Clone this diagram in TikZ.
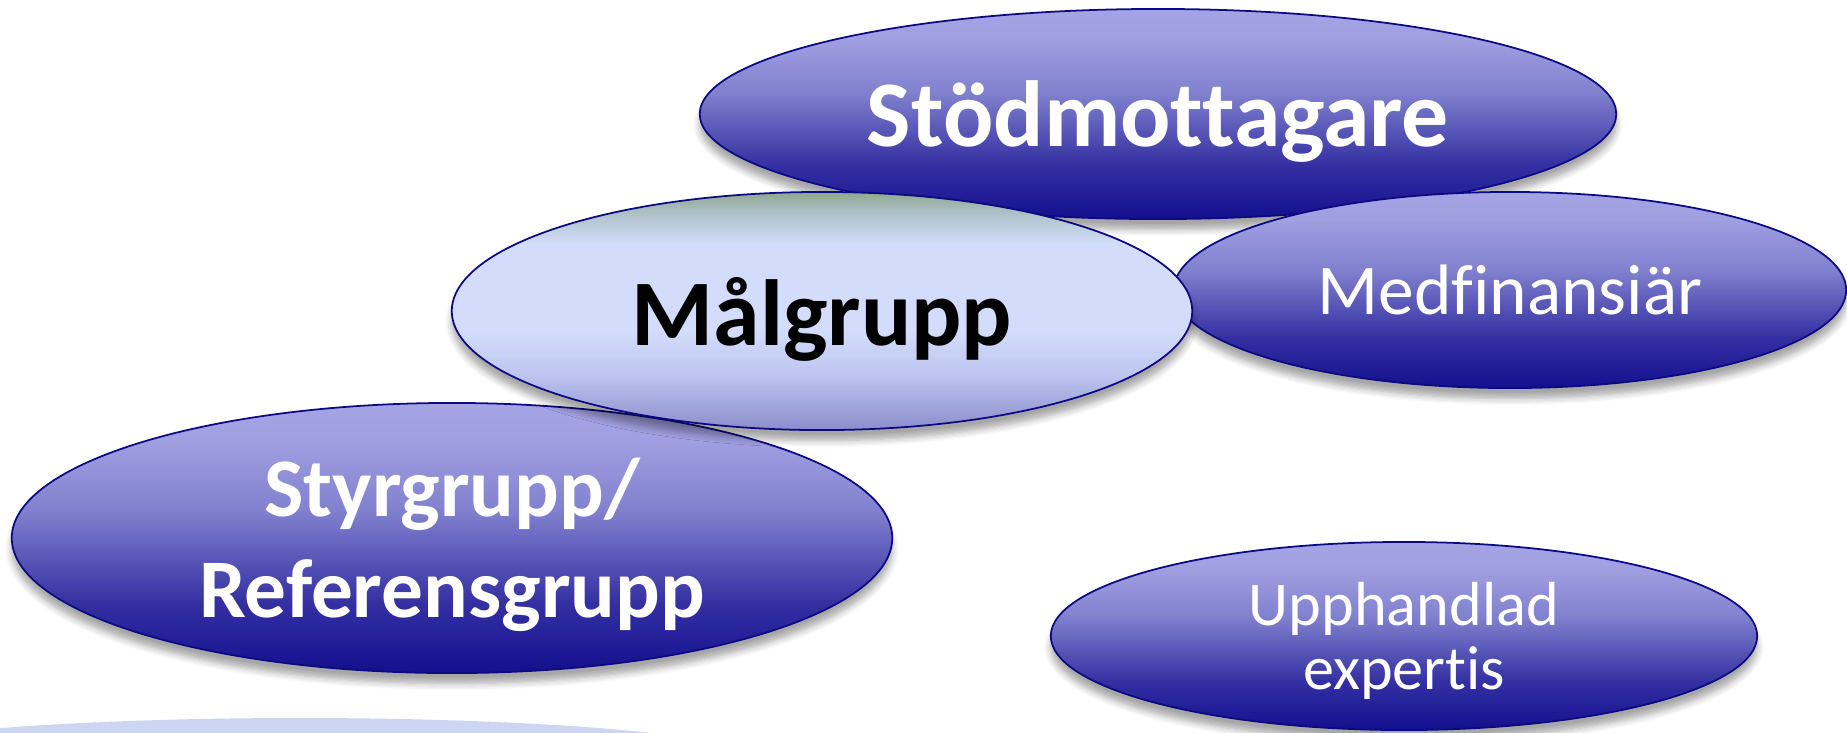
\documentclass[tikz,border=0pt]{standalone}
\usepackage{fontspec}
\setmainfont{Carlito}[Ligatures={NoCommon}]
\usetikzlibrary{shapes.geometric,shadows.blur}

\definecolor{rimblue}{HTML}{0B0A82}
\definecolor{bandblue}{HTML}{CCD5F1}
\pgfdeclareverticalshading{darkoval}{100bp}{color(0bp)=(rgb,255:red,20;green,15;blue,142);
  color(25bp)=(rgb,255:red,20;green,15;blue,142);
  color(38bp)=(rgb,255:red,52;green,48;blue,162);
  color(55bp)=(rgb,255:red,128;green,128;blue,206);
  color(68bp)=(rgb,255:red,160;green,159;blue,225);
  color(75bp)=(rgb,255:red,164;green,163;blue,228);
  color(100bp)=(rgb,255:red,164;green,163;blue,228)}
\pgfdeclareverticalshading{lightoval}{100bp}{color(0bp)=(rgb,255:red,139;green,141;blue,203);
  color(25bp)=(rgb,255:red,139;green,141;blue,203);
  color(37bp)=(rgb,255:red,190;green,198;blue,240);
  color(46bp)=(rgb,255:red,211;green,221;blue,251);
  color(64bp)=(rgb,255:red,211;green,221;blue,251);
  color(71bp)=(rgb,255:red,172;green,190;blue,196);
  color(75bp)=(rgb,255:red,143;green,167;blue,144);
  color(100bp)=(rgb,255:red,143;green,167;blue,144)}

\begin{document}
\begin{tikzpicture}[x=0.01cm,y=-0.01cm,
  oval/.style={ellipse,draw=rimblue,line width=0.5pt,inner sep=0pt,shading=darkoval,text=white,align=center,text depth=0pt,
    blur shadow={shadow xshift=0pt,shadow yshift=-3pt,shadow blur steps=6,shadow opacity=35}},
  bigbold/.style={font=\fontsize{26.7}{32}\selectfont\bfseries}]
\useasboundingbox (0,0) rectangle (1847,732);

\begin{scope}
\clip (0,0) rectangle (1847,732);
\fill[bandblue] (300,760) ellipse [x radius=460, y radius=42];
\end{scope}

\node[oval,bigbold,minimum width=9.16cm,minimum height=2.1cm] (stod) at (1158,114) {Stödmottagare};
\node[oval,font=\fontsize{20.3}{24}\selectfont,minimum width=6.72cm,minimum height=1.96cm] (medfin) at (1510,290) {Medfinansiär};
\node[oval,font=\fontsize{23.7}{28.7}\selectfont\bfseries,minimum width=8.8cm,minimum height=2.7cm] (styr) at (452,538) {Styrgrupp/\\Referensgrupp};
\node[oval,font=\fontsize{17.7}{18.2}\selectfont,minimum width=7.06cm,minimum height=1.88cm] (upph) at (1404,636) {Upphandlad\\expertis};
\node[oval,bigbold,shading=lightoval,text=black,minimum width=7.4cm,minimum height=2.38cm] (malgrupp) at (822,311) {Målgrupp};
\end{tikzpicture}
\end{document}
